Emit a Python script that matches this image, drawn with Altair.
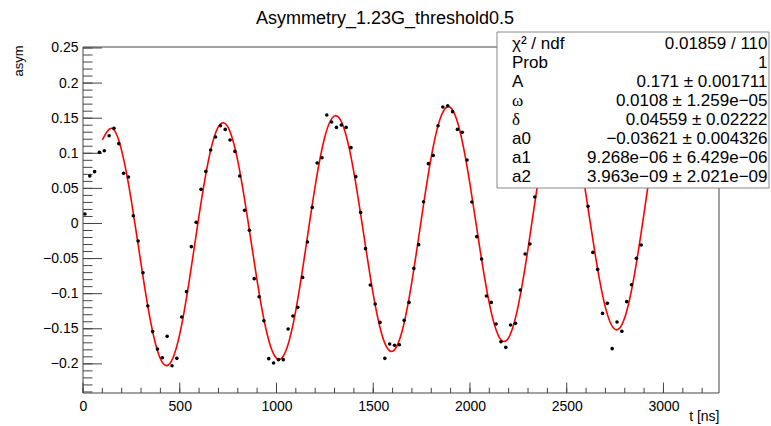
import altair as alt
import pandas as pd

# ---- measured data points (t in ns, asymmetry) ----
t_data = [10, 35, 60, 85, 110, 135, 160, 185, 210, 235, 260, 285, 310, 335, 360, 385,
          410, 435, 460, 485, 510, 535, 560, 585, 610, 635, 660, 685, 710, 735, 760, 785,
          810, 835, 860, 885, 910, 935, 960, 985, 1010, 1035, 1060, 1085, 1110, 1135, 1160, 1185,
          1210, 1235, 1260, 1285, 1310, 1335, 1360, 1385, 1410, 1435, 1460, 1485, 1510, 1535, 1560, 1585,
          1610, 1635, 1660, 1685, 1710, 1735, 1760, 1785, 1810, 1835, 1860, 1885, 1910, 1935, 1960, 1985,
          2010, 2035, 2060, 2085, 2110, 2135, 2160, 2185, 2210, 2235, 2260, 2285, 2310, 2335,
          2610, 2635, 2660, 2685, 2710, 2735, 2760, 2785, 2810, 2835, 2860, 2885]
asym_data = [0.0135, 0.0677, 0.0738, 0.1013, 0.1037, 0.125, 0.1355, 0.1137, 0.0714, 0.0662,
             0.0111, -0.0249, -0.0701, -0.1175, -0.154, -0.1788, -0.1912, -0.1608, -0.2026, -0.1921,
             -0.1332, -0.0971, -0.033, 0.0016, 0.0486, 0.0742, 0.1047, 0.1232, 0.1393, 0.134,
             0.1189, 0.1027, 0.0677, 0.0187, -0.0098, -0.0786, -0.1043, -0.1385, -0.1926, -0.1987,
             -0.194, -0.194, -0.1503, -0.1318, -0.1195, -0.0768, -0.0264, 0.0229, 0.0862, 0.0937,
             0.1546, 0.1446, 0.1369, 0.1403, 0.1369, 0.108, 0.0667, 0.0158, -0.0359, -0.0876,
             -0.1147, -0.1409, -0.1921, -0.1717, -0.1736, -0.1727, -0.138, -0.1124, -0.064, -0.0302,
             0.031, 0.0852, 0.097, 0.1393, 0.166, 0.1678, 0.1593, 0.134, 0.1298, 0.0905,
             0.0306, -0.0188, -0.0506, -0.1033, -0.1124, -0.1432, -0.1684, -0.1765, -0.1446, -0.1423,
             -0.0947, -0.0434, -0.0292, 0.0378,
             0.0244, -0.0412, -0.0654, -0.1281, -0.1138, -0.1783, -0.1403, -0.1537, -0.1114, -0.0872,
             -0.0497, -0.0306]

# ---- fitted curve, sampled values ----
t_fit = [100, 150, 200, 250, 300, 350, 400, 450, 500, 550, 600, 650, 700, 750, 800, 850,
         900, 950, 1000, 1050, 1100, 1150, 1200, 1250, 1300, 1350, 1400, 1450, 1500, 1550, 1600, 1650,
         1700, 1750, 1800, 1850, 1900, 1950, 2000, 2050, 2100, 2150, 2200, 2250, 2300, 2350, 2400, 2450,
         2500, 2550, 2600, 2650, 2700, 2750, 2800, 2850, 2900, 2950, 3000]
asym_fit = [0.1191, 0.1355, 0.1035, 0.0323, -0.0576, -0.1406, -0.1927, -0.1991, -0.1577, -0.0801,
            0.0118, 0.0921, 0.1380, 0.1368, 0.0889, 0.0084, -0.0818, -0.1557, -0.1921, -0.1803,
            -0.1234, -0.0375, 0.0533, 0.1235, 0.1533, 0.1346, 0.0728, -0.0140, -0.1010, -0.1630,
            -0.1820, -0.1525, -0.0824, 0.0085, 0.0949, 0.1523, 0.1649, 0.1293, 0.0561, -0.0336,
            -0.1139, -0.1615, -0.1626, -0.1164, -0.0358, 0.0568, 0.1354, 0.1780, 0.1728, 0.1219,
            0.0400, -0.0490, -0.1195, -0.1509, -0.1339, -0.0728, 0.0154, 0.1061, 0.1739]

# ---- axis ticks ----
x_major = [0, 500, 1000, 1500, 2000, 2500, 3000]
y_major = [-0.2, -0.15, -0.1, -0.05, 0, 0.05, 0.1, 0.15, 0.2, 0.25]
x_minor = [100 * k for k in range(33)]
y_minor = [round(-0.24 + 0.01 * k, 2) for k in range(50)]

# ---- stats box text ----
stat_labels_a = ["χ² / ndf", "Prob", "A"]
stat_labels_greek = ["ω", "δ"]
stat_labels_b = ["a0", "a1", "a2"]
stat_values = ["0.01859 / 110", "1", "0.171 ± 0.001711", "0.0108 ± 1.259e−05",
               "0.04559 ± 0.02222", "−0.03621 ± 0.004326", "9.268e−06 ± 6.429e−06",
               "3.963e−09 ± 2.021e−09"]
title_text = "Asymmetry_1.23G_threshold0.5"

W, H = 636, 346
FONT = "Liberation Sans"
LINE = "#444444"

xs = alt.Scale(domain=[0, 3287], nice=False, zero=False)
ys = alt.Scale(domain=[-0.2415, 0.2514], nice=False, zero=False)

xaxis = alt.Axis(values=x_major, format="d", grid=False, domain=False, ticks=False, tickSize=0,
                 labelFont=FONT, labelFontSize=14, labelColor="black", labelPadding=6,
                 labelFlush=False, labelOverlap=False,
                 title="t [ns]", titleFont=FONT, titleFontSize=14, titleFontWeight="normal",
                 titleColor="black", titleAlign="right", titleAnchor="end", titleBaseline="alphabetic",
                 titleX=W, titleY=27, titleAngle=0)
yaxis = alt.Axis(values=y_major, format=".2~f", grid=False, domain=False, ticks=False, tickSize=0,
                 labelFont=FONT, labelFontSize=14, labelColor="black", labelPadding=5,
                 labelFlush=False, labelOverlap=False,
                 title="asym", titleFont=FONT, titleFontSize=13, titleFontWeight="normal",
                 titleColor="black", titleAlign="right", titleAnchor="end", titleBaseline="alphabetic",
                 titleAngle=270, titleX=-61, titleY=-2)

X = alt.X("t:Q", scale=xs, axis=xaxis)
Y = alt.Y("asym:Q", scale=ys, axis=yaxis)

fit_df = pd.DataFrame({"t": t_fit, "asym": asym_fit})
pts_df = pd.DataFrame({"t": t_data, "asym": asym_data})
one = alt.Data(values=[{"k": 1}])

frame = alt.Chart(one).mark_rect(fillOpacity=0, stroke=LINE, strokeWidth=1).encode(
    x=alt.value(0), x2=alt.value(W), y=alt.value(0), y2=alt.value(H))

xmaj = alt.Chart(pd.DataFrame({"t": x_major})).mark_rule(color=LINE, strokeWidth=1).encode(
    x=X, y=alt.value(H), y2=alt.value(H - 10.4))
xmin = alt.Chart(pd.DataFrame({"t": x_minor})).mark_rule(color=LINE, strokeWidth=1).encode(
    x=X, y=alt.value(H), y2=alt.value(H - 5.2))
ymaj = alt.Chart(pd.DataFrame({"asym": y_major})).mark_rule(color=LINE, strokeWidth=1).encode(
    y=Y, x=alt.value(0), x2=alt.value(19))
ymin = alt.Chart(pd.DataFrame({"asym": y_minor})).mark_rule(color=LINE, strokeWidth=1).encode(
    y=Y, x=alt.value(0), x2=alt.value(9.5))

curve = alt.Chart(fit_df).mark_line(color="#ff0000", strokeWidth=1.6, interpolate="natural").encode(
    x=X, y=Y)
points = alt.Chart(pts_df).mark_circle(color="black", size=13, opacity=1).encode(x=X, y=Y)

# stats box
bx0, bx1, by0, by1 = 414, 686, -15, 141
box = alt.Chart(one).mark_rect(fill="white", stroke="#888888", strokeWidth=1).encode(
    x=alt.value(bx0), x2=alt.value(bx1), y=alt.value(by0), y2=alt.value(by1))
y0 = 1.8
LH = 19
lab_a = alt.Chart(one).mark_text(text=stat_labels_a, lineHeight=LH, align="left", baseline="alphabetic",
                                  font=FONT, fontSize=17, color="black").encode(
    x=alt.value(429), y=alt.value(y0))
lab_g = alt.Chart(one).mark_text(text=stat_labels_greek, lineHeight=LH, align="left", baseline="alphabetic",
                                  font="Liberation Serif", fontSize=17, color="black").encode(
    x=alt.value(429), y=alt.value(y0 + 3 * LH))
lab_b = alt.Chart(one).mark_text(text=stat_labels_b, lineHeight=LH, align="left", baseline="alphabetic",
                                  font=FONT, fontSize=17, color="black").encode(
    x=alt.value(429), y=alt.value(y0 + 5 * LH))
vals = alt.Chart(one).mark_text(text=stat_values, lineHeight=LH, align="right", baseline="alphabetic",
                                 font=FONT, fontSize=17, color="black").encode(
    x=alt.value(684.5), y=alt.value(y0))

title = alt.Chart(one).mark_text(text=title_text, align="center", baseline="alphabetic",
                                  font=FONT, fontSize=18, color="black").encode(
    x=alt.value(302), y=alt.value(-22.8))

chart = alt.layer(frame, xmin, xmaj, ymin, ymaj, curve, points, box, lab_a, lab_g, lab_b, vals, title).properties(
    width=W, height=H,
    autosize=alt.AutoSizeParams(type="none"),
    padding={"left": 83, "top": 47, "right": 52, "bottom": 33},
    background="white",
).configure_view(stroke="transparent")

chart.save("out.html", embed_options={"renderer": "svg", "actions": False})
